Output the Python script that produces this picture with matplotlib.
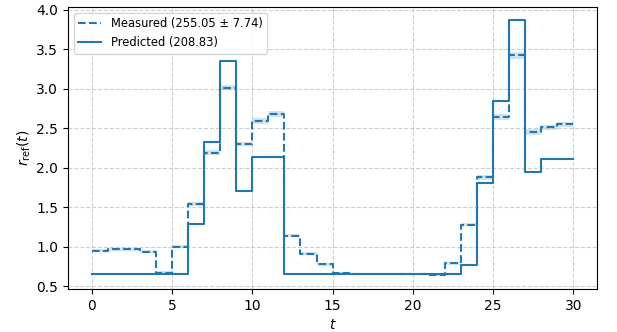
import numpy as np
import matplotlib.pyplot as plt

# time steps (step function, value holds on [t, t+1))
t = np.arange(0, 31)

r_measured = [0.95, 0.97, 0.97, 0.94, 0.67, 1.00, 1.54, 2.19, 3.01, 2.30,
              2.59, 2.68, 1.14, 0.91, 0.78, 0.67, 0.66, 0.65, 0.65, 0.65,
              0.65, 0.64, 0.79, 1.28, 1.88, 2.64, 3.42, 2.45, 2.51, 2.55,
              2.55]
r_measured_std = [0.02, 0.02, 0.02, 0.02, 0.02, 0.02, 0.03, 0.03, 0.03, 0.03,
                  0.04, 0.04, 0.02, 0.02, 0.02, 0.01, 0.01, 0.01, 0.01, 0.01,
                  0.01, 0.01, 0.02, 0.02, 0.03, 0.04, 0.04, 0.04, 0.03, 0.03,
                  0.03]
r_predicted = [0.65, 0.65, 0.65, 0.65, 0.65, 0.65, 1.29, 2.32, 3.35, 1.71,
               2.13, 2.13, 0.65, 0.65, 0.65, 0.65, 0.65, 0.65, 0.65, 0.65,
               0.65, 0.65, 0.65, 0.77, 1.81, 2.84, 3.87, 1.95, 2.11, 2.11,
               2.11]

measured_total = 255.05
measured_total_std = 7.74
predicted_total = 208.83

m = np.array(r_measured)
s = np.array(r_measured_std)

fig, ax = plt.subplots(figsize=(6.17, 3.32), dpi=100)
fig.subplots_adjust(left=0.110, right=0.968, top=0.979, bottom=0.130)

ax.step(t, m, where='post', linestyle='--', color='tab:blue', lw=1.5,
        label=f'Measured ({measured_total:.2f} ± {measured_total_std:.2f})')
ax.fill_between(t, m - s, m + s, step='post', color='tab:blue', alpha=0.2, lw=0)
ax.step(t, r_predicted, where='post', color='tab:blue', lw=1.5,
        label=f'Predicted ({predicted_total:.2f})')

ax.set_xlabel('$t$')
ax.set_ylabel(r'$r_{\mathrm{ref}}(t)$', labelpad=2)
ax.set_xticks(np.arange(0, 31, 5))
ax.set_yticks(np.arange(0.5, 4.01, 0.5))
ax.grid(True, linestyle='--', alpha=0.6)
ax.legend(loc='upper left', fontsize=8.3)

fig.savefig('out.png', dpi=100)
